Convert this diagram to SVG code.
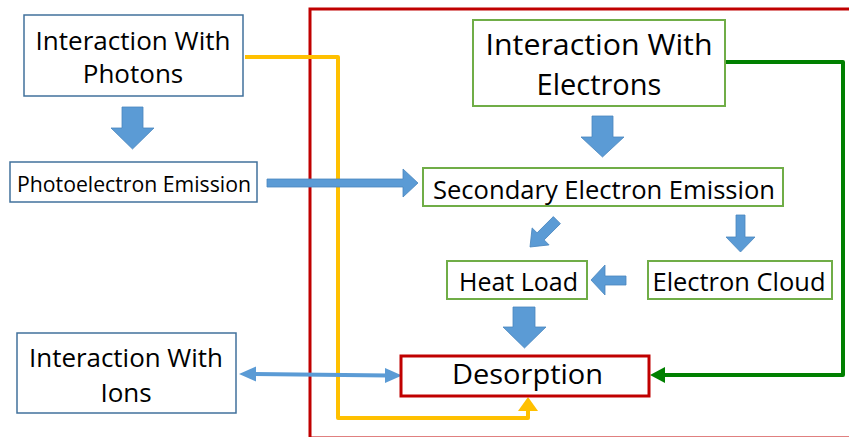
<svg xmlns="http://www.w3.org/2000/svg" width="849" height="437" viewBox="0 0 849 437">
<style>
.bb{fill:#fff;stroke:#41719C;stroke-width:1.5}
.gb{fill:#fff;stroke:#70AD47;stroke-width:2}
.rb{fill:#fff;stroke:#C00000;stroke-width:3}
.ba{fill:#5B9BD5;stroke:#4A86BE;stroke-width:0.8}
text{font-family:"Open Sans","Noto Sans","Liberation Sans",sans-serif;fill:#000;text-anchor:middle}
</style>
<rect x="310" y="9" width="545" height="429" fill="none" stroke="#C00000" stroke-width="3"/>
<g id="connectors">
<path d="M245,57 H338 V418 H528 V409" fill="none" stroke="#FFC000" stroke-width="4" stroke-linejoin="round"/>
<path d="M518,411 L528,397 L538,411 Z" fill="#FFC000"/>
<path d="M725,62 H843 V375 H662" fill="none" stroke="#008000" stroke-width="4" stroke-linejoin="round"/>
<path d="M665,367 L650,375 L665,383 Z" fill="#008000"/>
<path d="M253,374 L388,375.5" stroke="#5B9BD5" stroke-width="4"/>
<path d="M239,374 L256,366.5 L256,381.5 Z" fill="#5B9BD5"/>
<path d="M402,375.5 L385,368 L385,383 Z" fill="#5B9BD5"/>
<path class="ba" d="M122,107 H143 V128 H154 L132.5,149 L111,128 H122 Z"/>
<path class="ba" d="M592,116 H613 V137 H624 L602.5,157 L581,137 H592 Z"/>
<path class="ba" d="M736,215 H745 V237 H755 L740.5,252 L726,237 H736 Z"/>
<path class="ba" d="M513,307 H535 V327 H546 L524.5,348 L503,327 H513 Z"/>
<path class="ba" d="M626,276 V285 H605 V295 L591,280 L605,265 V276 Z"/>
<path class="ba" d="M267,179 H403 V169 L418,183 L403,197 V187 H267 Z"/>
<path class="ba" transform="translate(530,247) rotate(45)" d="M-5,-38 H5 V-15 H12 L0,0 L-12,-15 H-5 Z"/>
</g>
<g id="photons">
<rect class="bb" x="24" y="15" width="219" height="81"/>
<text x="133" y="50" font-size="26" textLength="195" lengthAdjust="spacingAndGlyphs">Interaction With</text>
<text x="133" y="83" font-size="26">Photons</text>
</g>
<g id="photoelectron">
<rect class="bb" x="10" y="162" width="247" height="40"/>
<text x="134" y="192" font-size="21" textLength="234" lengthAdjust="spacingAndGlyphs">Photoelectron Emission</text>
</g>
<g id="ions">
<rect class="bb" x="17" y="333" width="219" height="80"/>
<text x="126" y="367" font-size="26" textLength="194" lengthAdjust="spacingAndGlyphs">Interaction With</text>
<text x="126" y="402" font-size="26">Ions</text>
</g>
<g id="electrons">
<rect class="gb" x="473" y="20" width="252" height="86"/>
<text x="599" y="55" font-size="29" textLength="227" lengthAdjust="spacingAndGlyphs">Interaction With</text>
<text x="599" y="95" font-size="29">Electrons</text>
</g>
<g id="see">
<rect class="gb" x="423" y="168" width="360" height="38"/>
<text x="604" y="199" font-size="25" textLength="342" lengthAdjust="spacingAndGlyphs">Secondary Electron Emission</text>
</g>
<g id="heatload">
<rect class="gb" x="447" y="261" width="140" height="38"/>
<text x="518.5" y="291" font-size="25" textLength="119" lengthAdjust="spacingAndGlyphs">Heat Load</text>
</g>
<g id="cloud">
<rect class="gb" x="648" y="261" width="184" height="38"/>
<text x="739" y="291" font-size="25" textLength="173" lengthAdjust="spacingAndGlyphs">Electron Cloud</text>
</g>
<g id="desorption">
<rect class="rb" x="401" y="356" width="248" height="40"/>
<text x="527.5" y="384" font-size="28" textLength="151" lengthAdjust="spacingAndGlyphs">Desorption</text>
</g>
</svg>
